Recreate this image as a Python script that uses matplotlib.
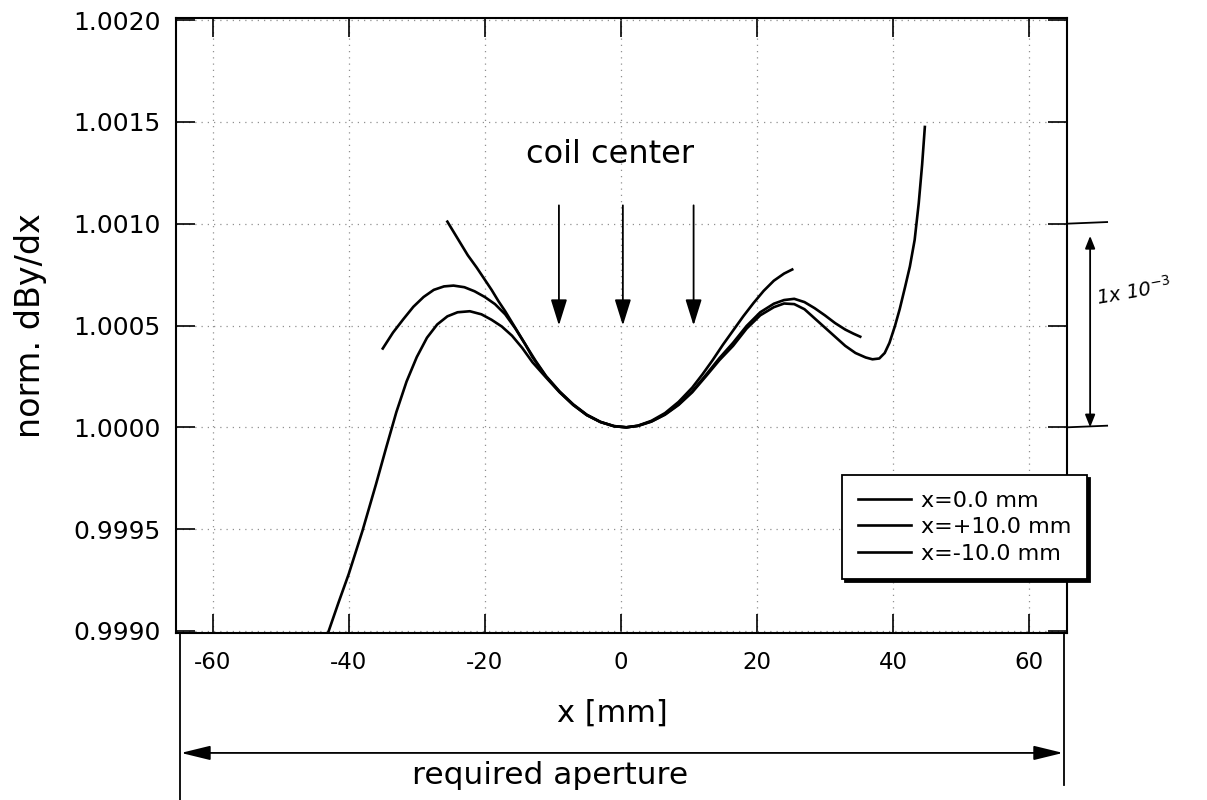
import matplotlib
matplotlib.use("Agg")
import matplotlib.pyplot as plt
from matplotlib.lines import Line2D

plt.rcParams['font.family'] = ['DejaVu Sans']
plt.rcParams['axes.unicode_minus'] = False

# --- data ---
legend_labels = ["x=0.0 mm", "x=+10.0 mm", "x=-10.0 mm"]

x_c0 = [-43.0, -41.5, -40.0, -38.0, -36.0, -34.5, -33.0, -31.5, -30.0, -28.5,
        -27.0, -25.5, -24.0, -22.2, -20.5, -19.0, -17.5, -16.0, -14.5, -13.0,
        -11.0, -9.0, -7.0, -5.0, -3.0, -1.0, 0.8, 2.5, 4.5, 6.5,
        8.5, 10.5, 12.5, 14.5, 16.5, 18.5, 20.5, 22.5, 24.0, 25.5,
        27.0, 28.5, 30.0, 31.5, 33.0, 34.5, 36.0, 37.0, 38.0, 38.8,
        39.5, 40.3, 41.0, 41.8, 42.5, 43.2, 43.8, 44.3, 44.7]
y_c0 = [0.998995, 0.999140, 0.999280, 0.999490, 0.999720, 0.999900, 1.000075, 1.000225, 1.000345, 1.000440,
        1.000505, 1.000545, 1.000565, 1.000570, 1.000555, 1.000528, 1.000495, 1.000450, 1.000390, 1.000320,
        1.000245, 1.000172, 1.000110, 1.000060, 1.000026, 1.000006, 1.000000, 1.000007, 1.000028, 1.000062,
        1.000110, 1.000172, 1.000250, 1.000330, 1.000400, 1.000485, 1.000550, 1.000590, 1.000608, 1.000605,
        1.000580, 1.000535, 1.000490, 1.000445, 1.000400, 1.000365, 1.000343, 1.000334, 1.000338, 1.000365,
        1.000415, 1.000497, 1.000580, 1.000690, 1.000790, 1.000920, 1.001100, 1.001290, 1.001475]

x_cp = [-35.0, -33.5, -32.0, -30.5, -29.0, -27.5, -26.0, -24.6, -23.0, -21.5,
        -20.0, -18.5, -17.0, -15.5, -14.0, -12.5, -11.0, -9.0, -7.0, -5.0,
        -3.0, -1.0, 0.8, 2.5, 4.5, 6.5, 8.5, 10.5, 12.5, 14.5,
        16.5, 18.5, 20.5, 22.5, 24.0, 25.5, 27.0, 28.5, 30.0, 31.5,
        33.0, 34.2, 35.2]
y_cp = [1.000387, 1.000465, 1.000530, 1.000592, 1.000640, 1.000675, 1.000692, 1.000696, 1.000688, 1.000668,
        1.000640, 1.000605, 1.000555, 1.000485, 1.000405, 1.000325, 1.000252, 1.000176, 1.000113, 1.000062,
        1.000027, 1.000006, 1.000000, 1.000007, 1.000029, 1.000064, 1.000113, 1.000177, 1.000257, 1.000340,
        1.000415, 1.000498, 1.000565, 1.000607, 1.000625, 1.000631, 1.000615, 1.000585, 1.000550, 1.000512,
        1.000480, 1.000460, 1.000445]

x_cm = [-25.5, -24.5, -23.5, -22.5, -21.2, -20.0, -19.0, -18.0, -17.0, -16.0,
        -15.0, -14.0, -13.0, -11.0, -9.0, -7.0, -5.0, -3.0, -1.0, 0.8,
        2.5, 4.5, 6.5, 8.5, 10.5, 12.0, 13.5, 15.0, 16.5, 18.0,
        19.5, 21.0, 22.5, 24.0, 25.2]
y_cm = [1.001010, 1.000955, 1.000900, 1.000845, 1.000785, 1.000725, 1.000675, 1.000620, 1.000570, 1.000515,
        1.000460, 1.000405, 1.000345, 1.000250, 1.000174, 1.000110, 1.000060, 1.000026, 1.000005, 1.000000,
        1.000008, 1.000032, 1.000070, 1.000125, 1.000195, 1.000260, 1.000330, 1.000405, 1.000475, 1.000545,
        1.000610, 1.000670, 1.000720, 1.000755, 1.000775]

coil_x = [-9.1, 0.3, 10.7]
x_ticks = [-60, -40, -20, 0, 20, 40, 60]
y_ticks = [0.9990, 0.9995, 1.0000, 1.0005, 1.0010, 1.0015, 1.0020]

W, H = 1207, 800
fig = plt.figure(figsize=(W / 100, H / 100), dpi=100)
ax = fig.add_axes([176 / W, 1 - 633 / H, 891 / W, 615 / H])

for xs, ys, lab in zip([x_c0, x_cp, x_cm], [y_c0, y_cp, y_cm], legend_labels):
    ax.plot(xs, ys, color='k', lw=1.9, label=lab, solid_joinstyle='round')

ax.set_xlim(-65.4, 65.6)
ax.set_ylim(0.99899, 1.00201)
ax.set_xticks(x_ticks)
ax.set_xticklabels([str(v) for v in x_ticks])
ax.set_yticks(y_ticks)
ax.set_yticklabels([f"{v:.4f}" for v in y_ticks])
ax.tick_params(direction='in', length=14, width=1.2, top=True, right=True)
ax.tick_params(axis='x', labelsize=16.5, pad=13)
ax.tick_params(axis='y', labelsize=18, pad=11)
for sp in ax.spines.values():
    sp.set_linewidth(1.5)
ax.grid(True, color='#909090', linestyle=(0, (1, 4)), linewidth=0.9)

ax.set_ylabel("norm. dBy/dx", fontsize=24)
ax.yaxis.set_label_coords(-0.145, 0.5)

# coil centre arrows
ax.text(-1.6, 1.001338, "coil center", fontsize=23, ha='center', va='center')
for cx in coil_x:
    ax.annotate('', xy=(cx, 1.0005), xytext=(cx, 1.00109),
                arrowprops=dict(arrowstyle='-|>,head_length=0.8,head_width=0.25',
                                color='k', lw=1.3, mutation_scale=20,
                                shrinkA=0, shrinkB=0))

leg = ax.legend(loc='upper left', bbox_to_anchor=(0.7475, 0.257), borderaxespad=0,
                fontsize=16, frameon=True, fancybox=False, edgecolor='k',
                handlelength=2.4, handletextpad=0.45, labelspacing=0.3,
                borderpad=0.7, shadow={'color': 'k', 'alpha': 1})
leg.get_frame().set_linewidth(1.3)
leg.set_zorder(10)

# hand-drawn 1e-3 span on the right
for yv in (1.0010, 1.0000):
    ax.plot([65.6, 71.5], [yv, yv + 0.000008], color='k', lw=1.3, clip_on=False)
ax.annotate('', xy=(69.0, 1.0000), xytext=(69.0, 1.00094),
            arrowprops=dict(arrowstyle='<|-|>,head_length=0.5,head_width=0.2',
                            color='k', lw=1.3, mutation_scale=15, shrinkA=0, shrinkB=0),
            annotation_clip=False)
ax.text(75.5, 1.000667, r"1x 10$^{-3}$", fontsize=14, style='italic', rotation=10,
        ha='center', va='center', clip_on=False)

# x label, aperture marker below axes
ax.text(0.49, -0.130, "x [mm]", transform=ax.transAxes, fontsize=22,
        ha='center', va='center')
ax.annotate('', xy=(0.0056, -0.195), xytext=(0.9955, -0.195), xycoords='axes fraction',
            arrowprops=dict(arrowstyle='<|-|>,head_length=0.9,head_width=0.22',
                            color='k', lw=1.3, mutation_scale=20, shrinkA=0, shrinkB=0))
ax.text(0.42, -0.2325, "required aperture", transform=ax.transAxes, fontsize=22.5,
        ha='center', va='center')
fig.add_artist(Line2D([180 / W, 180 / W], [1 - 633 / H, 0.0], color='k', lw=1.3))
fig.add_artist(Line2D([1064 / W, 1064 / W], [1 - 633 / H, 1 - 785 / H], color='k', lw=1.3))

fig.savefig("out.png", dpi=100)
